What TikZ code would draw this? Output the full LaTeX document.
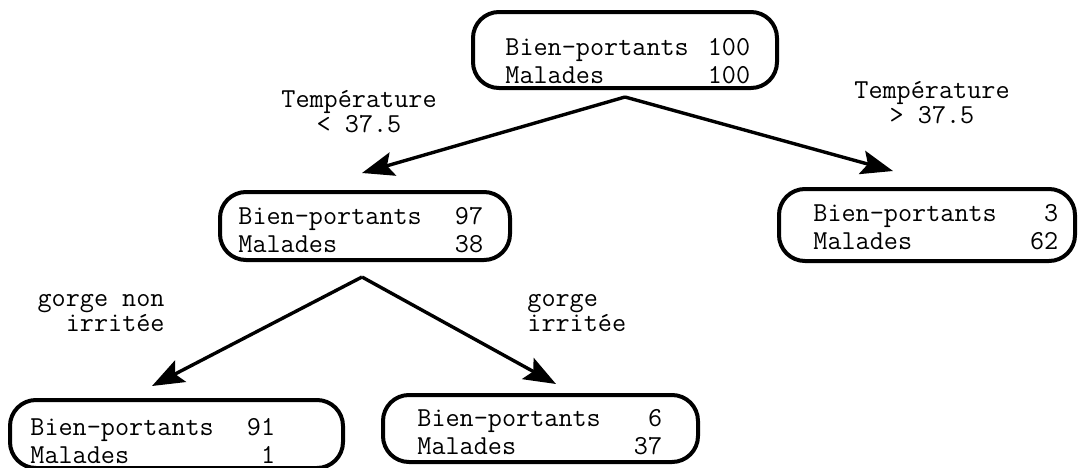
\documentclass[tikz,border=0pt]{standalone}
\usepackage{fontspec}
\usetikzlibrary{arrows.meta}
\begin{document}
\begin{tikzpicture}[x=0.5pt,y=-0.5pt,
  font=\ttfamily\fontsize{13.7}{14}\selectfont,
  box/.style={draw, line width=2pt, rounded corners=13pt, inner sep=0pt, rectangle},
  counts/.style={inner sep=0pt, anchor=base west},
  lbl/.style={inner sep=0pt, anchor=base, font=\ttfamily\fontsize{13.7}{12.5}\selectfont},
  arr/.style={line width=1.7pt, -{Stealth[length=16pt,width=12pt,inset=3pt]}}]

\useasboundingbox (0,0) rectangle (1078,467);

% decision boxes
\node[box, minimum width=152pt, minimum height=38pt]   (root) at (625,50)  {};
\node[box, minimum width=145pt, minimum height=34pt]   (ml)   at (365,226) {};
\node[box, minimum width=148pt, minimum height=36pt]   (rt)   at (927,225) {};
\node[box, minimum width=166.5pt, minimum height=34pt] (bl)   at (176.5,434) {};
\node[box, minimum width=157.5pt, minimum height=33.5pt] (bm) at (540.5,428.5) {};

% counts in each box
\node[counts] (rootT) at (505,55)  {\parbox[t]{122.4pt}{Bien-portants\hfill 100\\Malades\hfill 100}};
\node[counts] (mlT)   at (238,224) {\parbox[t]{122.4pt}{Bien-portants\hfill 97\\Malades\hfill 38}};
\node[counts] (rtT)   at (813,221) {\parbox[t]{122.4pt}{Bien-portants\hfill 3\\Malades\hfill 62}};
\node[counts] (blT)   at (30,435)  {\parbox[t]{122.4pt}{Bien-portants\hfill 91\\Malades\hfill 1}};
\node[counts] (bmT)   at (417,426) {\parbox[t]{122.4pt}{Bien-portants\hfill 6\\Malades\hfill 37}};

% branch points and arrow tips
\coordinate (rootApex) at (625,97);
\coordinate (mlApex)   at (362,277);
\coordinate (tipML) at (362,173);
\coordinate (tipRT) at (893,171);
\coordinate (tipBL) at (152,386);
\coordinate (tipBM) at (556,384);

\draw[arr] (rootApex) -- (tipML);
\draw[arr] (rootApex) -- (tipRT);
\draw[arr] (mlApex) -- (tipBL);
\draw[arr] (mlApex) -- (tipBM);

% branch labels
\node[lbl] (lTl) at (359,107) {\parbox[t]{80pt}{\centering Température\\< 37.5}};
\node[lbl] (lTr) at (932,98)  {\parbox[t]{80pt}{\centering Température\\> 37.5}};
\node[lbl, anchor=base east] (lGn) at (165,306) {\parbox[t]{65pt}{\raggedleft gorge non\\irritée}};
\node[lbl, anchor=base west] (lGi) at (527,306) {\parbox[t]{65pt}{\raggedright gorge\\irritée}};
\end{tikzpicture}
\end{document}
